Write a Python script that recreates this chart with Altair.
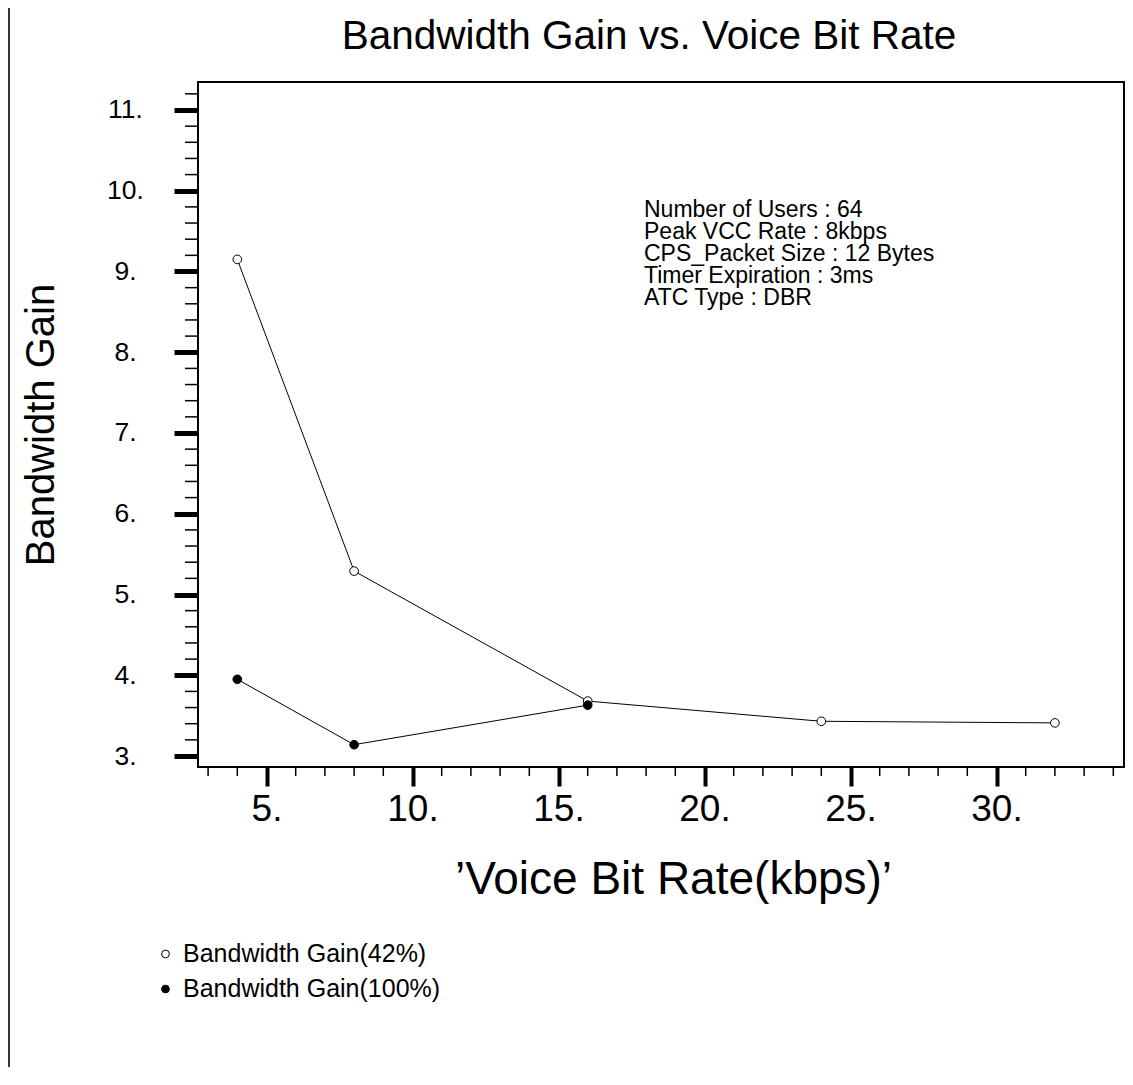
import altair as alt
import pandas as pd

# ---- data ----
rate_42 = [4, 8, 16, 24, 32]
gain_42 = [9.15, 5.29, 3.68, 3.43, 3.41]
rate_100 = [4, 8, 16]
gain_100 = [3.95, 3.14, 3.63]
series_names = ["Bandwidth Gain(42%)", "Bandwidth Gain(100%)"]

x_major = [5, 10, 15, 20, 25, 30]
x_minor = [3, 4, 6, 7, 8, 9, 11, 12, 13, 14, 16, 17, 18, 19, 21, 22, 23, 24,
           26, 27, 28, 29, 31, 32, 33, 34]
y_major = [3, 4, 5, 6, 7, 8, 9, 10, 11]
y_minor = [3.2, 3.4, 3.6, 3.8, 4.2, 4.4, 4.6, 4.8, 5.2, 5.4, 5.6, 5.8,
           6.2, 6.4, 6.6, 6.8, 7.2, 7.4, 7.6, 7.8, 8.2, 8.4, 8.6, 8.8,
           9.2, 9.4, 9.6, 9.8, 10.2, 10.4, 10.6, 10.8, 11.2]

title_text = "Bandwidth Gain vs. Voice Bit Rate"
x_title = "\u2019Voice Bit Rate(kbps)\u2019"
y_title = "Bandwidth Gain"
info_lines = ["Number of Users : 64", "Peak VCC Rate : 8kbps",
              "CPS_Packet Size : 12 Bytes", "Timer Expiration : 3ms",
              "ATC Type : DBR"]

FONT = "Liberation Sans"
W, H = 926, 685

df = pd.DataFrame(
    {"rate": rate_42 + rate_100,
     "gain": gain_42 + gain_100,
     "series": [series_names[0]] * len(rate_42) + [series_names[1]] * len(rate_100)}
)

x_scale = alt.Scale(domain=[2.654, 34.366], nice=False, zero=False)
y_scale = alt.Scale(domain=[2.8638, 11.3467], nice=False, zero=False)

x_axis = alt.Axis(
    values=x_major, labelExpr="datum.value + '.'", grid=False, domain=False,
    tickSize=19, tickWidth=4, tickColor="black",
    labelFontSize=37, labelFont=FONT, labelColor="black", labelPadding=5,
    title=x_title, titleFont=FONT, titleFontSize=46,
    titleFontWeight="normal", titleColor="black",
    titleX=475, titleY=126, titleAlign="center", titleBaseline="alphabetic",
)
y_axis = alt.Axis(
    values=y_major, labelExpr="datum.value + '.'", grid=False, domain=False,
    tickSize=24, tickWidth=5, tickColor="black",
    labelFontSize=26.5, labelFont=FONT, labelColor="black", labelPadding=49,
    labelAlign="center", labelBaseline="middle",
    title=y_title, titleFont=FONT, titleFontSize=40,
    titleFontWeight="normal", titleColor="black",
    titleX=-145, titleY=H / 2, titleAngle=270, titleAlign="center",
    titleBaseline="alphabetic",
)

X = alt.X("rate:Q", scale=x_scale, axis=x_axis)
Y = alt.Y("gain:Q", scale=y_scale, axis=y_axis)

base = alt.Chart(df)

lines = base.mark_line(color="black", strokeWidth=1).encode(
    x=X, y=Y, detail="series:N",
)

points = base.mark_point(filled=True, size=75, stroke="black", strokeWidth=1,
                         opacity=1).encode(
    x=X, y=Y,
    fill=alt.Fill(
        "series:N",
        scale=alt.Scale(domain=series_names, range=["white", "black"]),
        legend=alt.Legend(
            title=None, orient="none", legendX=-45, legendY=859.5,
            symbolType="circle", symbolSize=60, symbolStrokeColor="black",
            symbolStrokeWidth=1, labelFont=FONT, labelFontSize=25,
            labelColor="black", labelOffset=5, rowPadding=9, padding=0,
            labelLimit=500,
        ),
    ),
)

minor_x = alt.Chart(pd.DataFrame({"rate": x_minor})).mark_rule(
    color="black", strokeWidth=1.5).encode(
    x=X, y=alt.value(H), y2=alt.value(H + 9),
)

minor_y = alt.Chart(pd.DataFrame({"gain": y_minor})).mark_rule(
    color="black", strokeWidth=1.5).encode(
    y=Y, x=alt.value(-13), x2=alt.value(0),
)

one = pd.DataFrame({"k": [0]})

info = alt.Chart(one).mark_text(
    align="left", baseline="alphabetic", font=FONT, fontSize=23,
    lineHeight=22, color="black").encode(
    x=alt.value(446), y=alt.value(135), text=alt.value(info_lines),
)

title = alt.Chart(one).mark_text(
    align="center", baseline="alphabetic", font=FONT, fontSize=40.5,
    color="black").encode(
    x=alt.value(W / 2 - 12), y=alt.value(-33), text=alt.value(title_text),
)

border = alt.Chart(one).mark_rule(
    color="#333333", strokeWidth=2).encode(
    x=alt.value(-189), y=alt.value(-74), y2=alt.value(H + 300),
)

chart = alt.layer(border, minor_x, minor_y, lines, points, info, title).properties(
    width=W, height=H,
    background="white",
    autosize=alt.AutoSizeParams(type="none"),
    padding={"left": 190, "top": 74, "right": 1, "bottom": 300},
).configure_view(stroke="black", strokeWidth=2)

chart.save("out.html", embed_options={"renderer": "svg", "actions": False})
